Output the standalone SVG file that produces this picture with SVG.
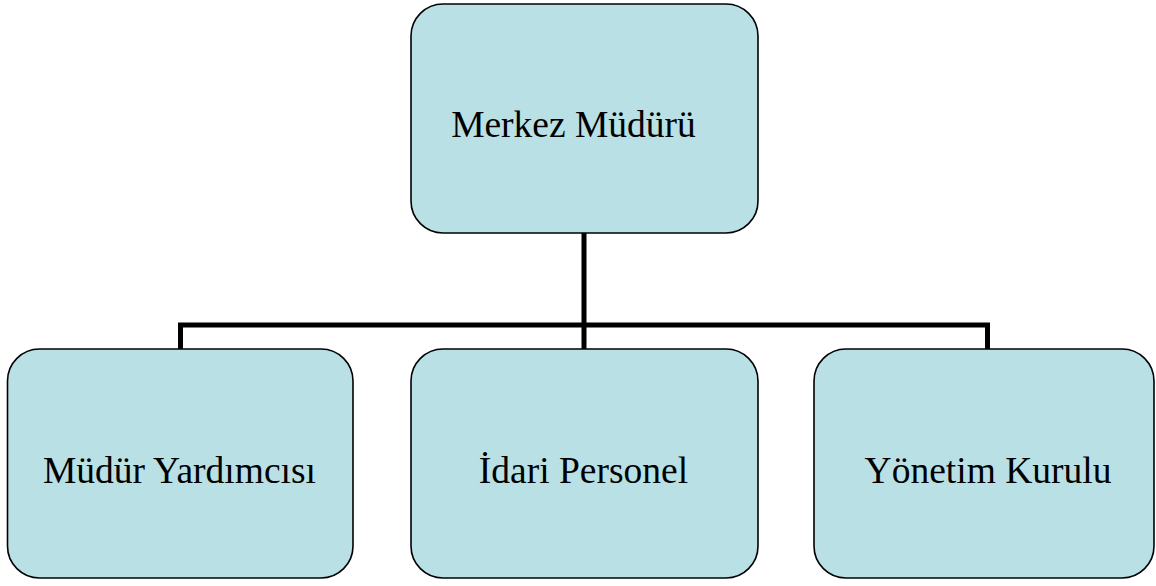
<svg xmlns="http://www.w3.org/2000/svg" width="1156" height="586" viewBox="0 0 1156 586">
<style>
.box{fill:#B9E0E4;stroke:#000;stroke-width:1.6}
.lbl{font-family:"Liberation Serif","Times New Roman",serif;font-size:37.5px;fill:#000;text-anchor:middle}
.conn{fill:none;stroke:#000;stroke-width:5;stroke-linejoin:miter}
</style>
<rect width="1156" height="586" fill="#fff"/>
<g id="connectors">
<path class="conn" d="M584 233 V349"/>
<path class="conn" d="M180.5 349 V325 H987.5 V349"/>
</g>
<g id="n-merkez">
<rect class="box" x="411" y="4" width="347" height="229" rx="32" ry="32"/>
<text class="lbl" x="573.5" y="137">Merkez Müdürü</text>
</g>
<g id="n-yardimci">
<rect class="box" x="7.5" y="349" width="345.5" height="229" rx="32" ry="32"/>
<text class="lbl" x="179.5" y="483">Müdür Yardımcısı</text>
</g>
<g id="n-idari">
<rect class="box" x="411" y="349" width="347" height="229" rx="32" ry="32"/>
<text class="lbl" x="583.5" y="483">İdari Personel</text>
</g>
<g id="n-yonetim">
<rect class="box" x="814" y="349" width="340" height="229" rx="32" ry="32"/>
<text class="lbl" x="988" y="483">Yönetim Kurulu</text>
</g>
</svg>
